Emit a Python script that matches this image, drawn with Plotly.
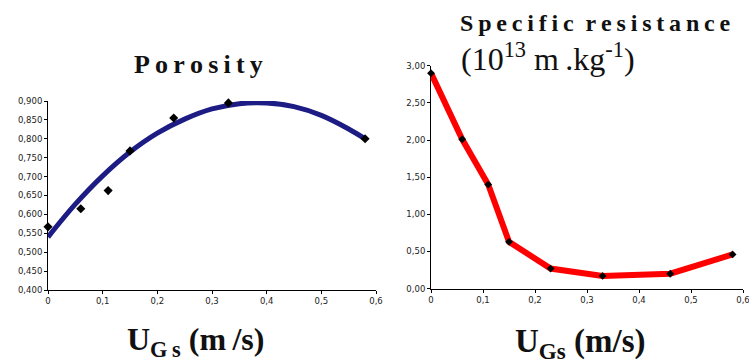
import plotly.graph_objects as go

# Porosity data (left)
ugs_por = [0.0, 0.06, 0.11, 0.15, 0.23, 0.33, 0.58]
porosity = [0.567, 0.615, 0.663, 0.768, 0.855, 0.895, 0.800]
# Trend curve
ugs_trend = [0.0, 0.05, 0.10, 0.15, 0.20, 0.25, 0.30, 0.35, 0.40, 0.45, 0.50, 0.55, 0.58]
por_trend = [0.540, 0.627, 0.702, 0.765, 0.815, 0.852, 0.879, 0.893, 0.895, 0.885, 0.862, 0.826, 0.800]

# Specific resistance data (right)
ugs_res = [0.0, 0.06, 0.11, 0.15, 0.23, 0.33, 0.46, 0.58]
resistance = [2.90, 2.01, 1.40, 0.63, 0.27, 0.17, 0.20, 0.46]

x_ticks = [0, 0.1, 0.2, 0.3, 0.4, 0.5, 0.6]
x_ticktext = ["0", "0,1", "0,2", "0,3", "0,4", "0,5", "0,6"]

W, H = 749, 363
fig = go.Figure()

fig.add_trace(go.Scatter(x=ugs_trend, y=por_trend, mode="lines", line=dict(color="#1c1c84", width=5, shape="spline"),
                         xaxis="x", yaxis="y", hoverinfo="skip", cliponaxis=False))
fig.add_trace(go.Scatter(x=ugs_por, y=porosity, mode="markers",
                         marker=dict(symbol="diamond", size=7, color="black"),
                         xaxis="x", yaxis="y", cliponaxis=False))
fig.add_trace(go.Scatter(x=ugs_res, y=resistance, mode="lines+markers",
                         line=dict(color="#ff0000", width=6),
                         marker=dict(symbol="diamond", size=6, color="black"),
                         xaxis="x2", yaxis="y2", cliponaxis=False))

tickfont = dict(family="DejaVu Sans", size=8.5, color="#222")
axis_common = dict(showline=True, linecolor="black", linewidth=1, ticks="outside", ticklen=3,
                   tickcolor="black", showgrid=False, zeroline=False, tickfont=tickfont,
                   automargin=False, ticklabeloverflow="allow")

fig.update_layout(
    width=W, height=H, margin=dict(l=0, r=0, t=0, b=0, autoexpand=False),
    paper_bgcolor="white", plot_bgcolor="white", showlegend=False,
    separators=",.",
    xaxis=dict(domain=[48 / W, 376 / W], range=[0, 0.6], tickvals=x_ticks, ticktext=x_ticktext,
               anchor="y", **axis_common),
    yaxis=dict(domain=[(H - 290) / H, (H - 101) / H], range=[0.4, 0.9], dtick=0.05, tick0=0.4,
               tickformat=".3f", anchor="x", **axis_common),
    xaxis2=dict(domain=[431 / W, 743 / W], range=[0, 0.6], tickvals=x_ticks, ticktext=x_ticktext,
                anchor="y2", **axis_common),
    yaxis2=dict(domain=[(H - 288.6) / H, (H - 65.7) / H], range=[0, 3.0], dtick=0.5,
                tickformat=".2f", anchor="x2", **axis_common),
)

ts = "\u2009"
ann = [
    dict(text="<b>" + ts.join("Porosity") + "</b>", x=198 / W, y=1 - 64 / H,
         font=dict(family="Liberation Serif", size=26, color="#111")),
    dict(text="<b>" + ts.join("Specific") + "\u2002" + ts.join("resistance") + "</b>", x=595 / W, y=1 - 23 / H,
         font=dict(family="Liberation Serif", size=24, color="#111")),
    dict(text="(10<sup>13</sup> m\u2009.kg<sup>-1</sup>)", x=548 / W, y=1 - 57 / H,
         font=dict(family="Liberation Serif", size=32, color="#111")),
    dict(text="<b>U<sub>G\u2009s</sub> (m\u2009/s)</b>", x=196 / W, y=1 - 341 / H,
         font=dict(family="Liberation Serif", size=32, color="#111")),
    dict(text="<b>U<sub>Gs</sub> (m/s)</b>", x=580 / W, y=1 - 343 / H,
         font=dict(family="Liberation Serif", size=33, color="#111")),
]
for a in ann:
    a.update(xref="paper", yref="paper", xanchor="center", yanchor="middle", showarrow=False)
fig.update_layout(annotations=ann)

fig.write_html("out.html", config={"displayModeBar": False},
               post_script="document.body.style.margin='0';document.body.style.overflow='hidden';")
